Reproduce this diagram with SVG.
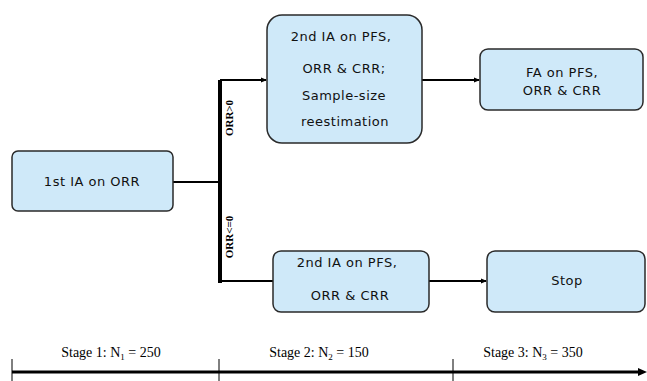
<svg xmlns="http://www.w3.org/2000/svg" width="647" height="381" viewBox="0 0 647 381">
<defs>
<marker id="ah" markerWidth="6" markerHeight="6" refX="5" refY="3" orient="auto" markerUnits="userSpaceOnUse">
<path d="M0,0.5 L6,3 L0,5.5 Z" fill="#000"/>
</marker>
<style>
.box{fill:#cfe9f9;stroke:#2a2a2a;stroke-width:1.5}
.t{font-family:"DejaVu Sans",sans-serif;font-size:13px;fill:#111;text-anchor:middle;letter-spacing:0.5px}
.lbl{font-family:"Liberation Serif",serif;font-size:11px;font-weight:bold;fill:#000;text-anchor:middle}
.st{font-family:"Liberation Serif",serif;font-size:14px;fill:#000;text-anchor:middle}
.c{fill:none;stroke:#000;stroke-width:2}
</style>
</defs>
<rect width="647" height="381" fill="#fff"/>
<g id="connectors">
<path class="c" d="M173,182 H220"/>
<path fill="none" stroke="#000" stroke-width="4" d="M220,80 V283"/>
<path class="c" d="M220,80 H266" marker-end="url(#ah)"/>
<path class="c" d="M220,281 H273"/>
<path class="c" d="M422,80 H479" marker-end="url(#ah)"/>
<path class="c" d="M429,281 H486" marker-end="url(#ah)"/>
<text class="lbl" transform="translate(233,118) rotate(-90)">ORR&gt;0</text>
<text class="lbl" transform="translate(233,237) rotate(-90)">ORR&lt;=0</text>
</g>
<g id="n1">
<rect class="box" x="12" y="151" width="161" height="60" rx="6"/>
<text class="t" x="92" y="186">1st IA on ORR</text>
</g>
<g id="n2">
<rect class="box" x="267" y="15" width="155" height="128" rx="15"/>
<text class="t" x="341" y="41">2nd IA on PFS,</text>
<text class="t" x="344" y="73">ORR &amp; CRR;</text>
<text class="t" x="344" y="100">Sample-size</text>
<text class="t" x="345" y="126">reestimation</text>
</g>
<g id="n3">
<rect class="box" x="480" y="49" width="163" height="61" rx="8"/>
<text class="t" x="562" y="77">FA on PFS,</text>
<text class="t" x="562" y="95">ORR &amp; CRR</text>
</g>
<g id="n4">
<rect class="box" x="273" y="251" width="156" height="61" rx="8"/>
<text class="t" x="347" y="267">2nd IA on PFS,</text>
<text class="t" x="350" y="300">ORR &amp; CRR</text>
</g>
<g id="n5">
<rect class="box" x="487" y="251" width="158" height="61" rx="8"/>
<text class="t" x="567" y="285">Stop</text>
</g>
<g id="timeline">
<path fill="none" stroke="#000" stroke-width="3" d="M12,372 H640"/>
<path d="M647,372 L638,368 L638,376 Z" fill="#000"/>
<path fill="none" stroke="#000" stroke-width="1" d="M12,359 V381 M219,359 V381 M453,359 V381"/>
<text class="st" x="111" y="357">Stage 1: N<tspan font-size="9" dy="3">1</tspan><tspan dy="-3"> = 250</tspan></text>
<text class="st" x="319" y="357">Stage 2: N<tspan font-size="9" dy="3">2</tspan><tspan dy="-3"> = 150</tspan></text>
<text class="st" x="533" y="357">Stage 3: N<tspan font-size="9" dy="3">3</tspan><tspan dy="-3"> = 350</tspan></text>
</g>
</svg>
